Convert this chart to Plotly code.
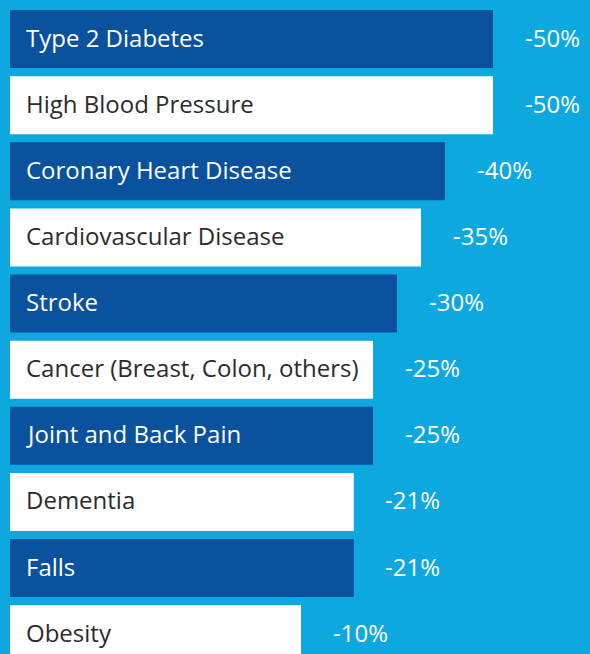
import plotly.graph_objects as go

categories = ["Type 2 Diabetes", "High Blood Pressure", "Coronary Heart Disease",
              "Cardiovascular Disease", "Stroke", "Cancer (Breast, Colon, others)",
              "Joint and Back Pain", "Dementia", "Falls", "Obesity"]
values = [50, 50, 40, 35, 30, 25, 25, 21, 21, 10]
value_labels = ["-50%", "-50%", "-40%", "-35%", "-30%", "-25%", "-25%", "-21%", "-21%", "-10%"]

BG = "#0EA8E0"
DARK = "#0A519E"
WHITE = "#FFFFFF"
TEXT_DARK = "#2B2B2B"
FONT = "Open Sans"

bar_colors = [DARK if i % 2 == 0 else WHITE for i in range(len(categories))]
text_colors = [WHITE if i % 2 == 0 else TEXT_DARK for i in range(len(categories))]

OFFSET = -50.625  # visual base of bars (bars do not start at zero)

fig = go.Figure()
fig.add_trace(go.Bar(
    y=categories, x=[v - OFFSET for v in values], base=OFFSET, orientation="h",
    marker=dict(color=bar_colors, line=dict(width=0)),
    width=0.877, hoverinfo="skip",
))

annotations = []
for i, (c, v, lab) in enumerate(zip(categories, values, value_labels)):
    annotations.append(dict(x=OFFSET, y=c, xref="x", yref="y", text=c,
                            showarrow=False, xanchor="left", xshift=14, yshift=2,
                            font=dict(family=FONT, size=24, color=text_colors[i])))
    annotations.append(dict(x=v, y=c, xref="x", yref="y", text=lab,
                            showarrow=False, xanchor="center", xshift=59, yshift=2,
                            font=dict(family=FONT, size=24, color=WHITE)))

fig.update_layout(
    width=590, height=654, autosize=False,
    margin=dict(l=0, r=0, t=0, b=0, pad=0),
    paper_bgcolor=BG, plot_bgcolor=BG,
    showlegend=False,
    annotations=annotations,
    xaxis=dict(range=[-52.708, 70.208], visible=False, fixedrange=True),
    yaxis=dict(range=[9.30, -0.59], visible=False, categoryorder="array",
               categoryarray=categories, fixedrange=True),
)

fig.write_html("out.html", config={"displayModeBar": False, "responsive": False},
               post_script="document.body.style.margin='0';document.body.style.overflow='hidden';")
